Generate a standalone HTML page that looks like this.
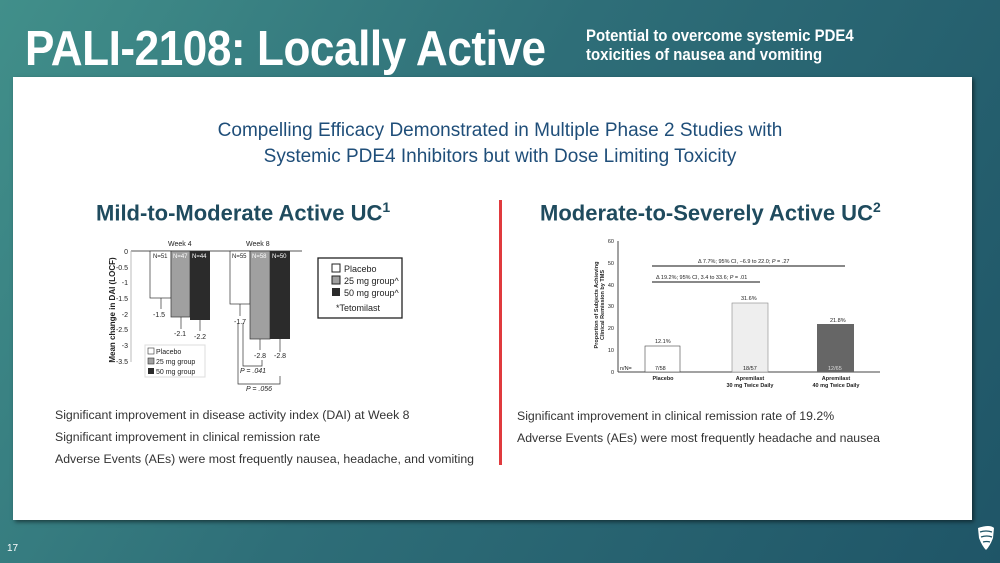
<!DOCTYPE html>
<html><head><meta charset="utf-8"><style>
body{margin:0;width:1000px;height:563px;overflow:hidden;font-family:"Liberation Sans",sans-serif;background:linear-gradient(120deg,#418f8a 0%,#2e6e78 45%,#1f5567 100%);position:relative}
.t{position:absolute;color:#fff;font-weight:bold;transform-origin:0 0}
.panel{position:absolute;left:13px;top:77px;width:959px;height:443px;background:#fff;box-shadow:2px 2px 4px rgba(0,0,0,.5)}
.a{position:absolute}
</style></head><body>
<div class="t" style="left:25px;top:21px;font-size:49px;letter-spacing:-0.5px;transform:scaleX(0.9)">PALI-2108: Locally Active</div>
<div class="t" style="left:586px;top:26px;font-size:17px;line-height:19px;transform:scaleX(0.88)">Potential to overcome systemic PDE4<br>toxicities of nausea and vomiting</div>
<div class="panel"></div>
<div class="a" style="left:0;width:1000px;top:118px;text-align:center;font-size:19px;line-height:26px;color:#1f4e79">Compelling Efficacy Demonstrated in Multiple Phase 2 Studies with<br>Systemic PDE4 Inhibitors but with Dose Limiting Toxicity</div>
<div class="a" style="left:96px;top:199px;font-size:22px;font-weight:bold;color:#1f4b5e">Mild-to-Moderate Active UC<sup style="font-size:14px">1</sup></div>
<div class="a" style="left:540px;top:199px;font-size:22px;font-weight:bold;color:#1f4b5e">Moderate-to-Severely Active UC<sup style="font-size:14px">2</sup></div>
<div class="a" style="left:499px;top:200px;width:3px;height:265px;background:#e03a3e"></div>
<svg class="a" style="left:0;top:0" width="1000" height="563" font-family="Liberation Sans,sans-serif">
<g font-size="7" fill="#222">
<text x="115" y="310" transform="rotate(-90 115 310)" text-anchor="middle" font-weight="bold" font-size="8">Mean change in DAI (LOCF)</text>
<line x1="131" y1="251" x2="302" y2="251" stroke="#555"/>
<line x1="131" y1="251" x2="131" y2="362" stroke="#bbb"/>
<g text-anchor="end">
<text x="128" y="254">0</text><text x="128" y="270">-0.5</text><text x="128" y="285">-1</text><text x="128" y="301">-1.5</text><text x="128" y="317">-2</text><text x="128" y="332">-2.5</text><text x="128" y="348">-3</text><text x="128" y="364">-3.5</text></g>
<text x="168" y="246">Week 4</text><text x="246" y="246">Week 8</text>
<rect x="150" y="251" width="21" height="47" fill="#fff" stroke="#333" stroke-width=".7"/>
<rect x="171" y="251" width="19" height="66" fill="#a0a0a0" stroke="#333" stroke-width=".7"/>
<rect x="190" y="251" width="20" height="69" fill="#2b2b2b"/>
<rect x="230" y="251" width="20" height="53" fill="#fff" stroke="#333" stroke-width=".7"/>
<rect x="250" y="251" width="20" height="88" fill="#a0a0a0" stroke="#333" stroke-width=".7"/>
<rect x="270" y="251" width="20" height="88" fill="#2b2b2b"/>
<g font-size="6"><text x="153" y="258">N=51</text><text x="173" y="258" fill="#fff">N=47</text><text x="192" y="258" fill="#fff">N=44</text><text x="232" y="258">N=55</text><text x="252" y="258" fill="#fff">N=58</text><text x="272" y="258" fill="#fff">N=50</text></g>
<g stroke="#333" stroke-width=".7"><line x1="161" y1="298" x2="161" y2="309"/><line x1="181" y1="317" x2="181" y2="329"/><line x1="200" y1="320" x2="200" y2="331"/><line x1="240" y1="304" x2="240" y2="316"/><line x1="260" y1="339" x2="260" y2="350"/><line x1="280" y1="339" x2="280" y2="352"/>
<polyline points="243,323 243,366 262,366 262,360" fill="none"/><polyline points="238,323 238,384 280,384 280,376" fill="none"/></g>
<text x="153" y="317">-1.5</text><text x="174" y="336">-2.1</text><text x="194" y="339">-2.2</text><text x="234" y="324">-1.7</text><text x="254" y="358">-2.8</text><text x="274" y="358">-2.8</text>
<text x="240" y="373" font-style="italic">P = .041</text><text x="246" y="391" font-style="italic">P = .056</text>
<rect x="145" y="345" width="60" height="32" fill="#fff" stroke="#ddd"/>
<rect x="148" y="348" width="6" height="6" fill="#fff" stroke="#333" stroke-width=".6"/><text x="156" y="354">Placebo</text>
<rect x="148" y="358" width="6" height="6" fill="#a0a0a0" stroke="#333" stroke-width=".6"/><text x="156" y="364">25 mg group</text>
<rect x="148" y="368" width="6" height="6" fill="#2b2b2b"/><text x="156" y="374">50 mg group</text>
<rect x="318" y="258" width="84" height="60" fill="#fff" stroke="#222" stroke-width="1.3"/>
<g font-size="9"><rect x="332" y="264" width="8" height="8" fill="#fff" stroke="#222"/><text x="344" y="272">Placebo</text>
<rect x="332" y="276" width="8" height="8" fill="#a0a0a0" stroke="#222"/><text x="344" y="284">25 mg group^</text>
<rect x="332" y="288" width="8" height="8" fill="#2b2b2b"/><text x="344" y="296">50 mg group^</text>
<text x="336" y="311">*Tetomilast</text></g>
</g>
<g font-size="5.5" fill="#222">
<text x="598" y="305" transform="rotate(-90 598 305)" text-anchor="middle" font-weight="bold">Proportion of Subjects Achieving</text>
<text x="604" y="305" transform="rotate(-90 604 305)" text-anchor="middle" font-weight="bold">Clinical Remission by TMS</text>
<line x1="618" y1="241" x2="618" y2="372" stroke="#444"/><line x1="618" y1="372" x2="880" y2="372" stroke="#444"/>
<g text-anchor="end"><text x="614" y="243">60</text><text x="614" y="265">50</text><text x="614" y="287">40</text><text x="614" y="308">30</text><text x="614" y="330">20</text><text x="614" y="352">10</text><text x="614" y="374">0</text></g>
<rect x="645" y="346" width="35" height="26" fill="#fff" stroke="#444" stroke-width=".6"/>
<rect x="732" y="303" width="36" height="69" fill="#eee" stroke="#888" stroke-width=".6"/>
<rect x="817" y="324" width="37" height="48" fill="#666"/>
<line x1="652" y1="266" x2="845" y2="266" stroke="#111"/>
<line x1="652" y1="282" x2="760" y2="282" stroke="#888" stroke-width="2"/>
<text x="698" y="263">Δ 7.7%; 95% CI, −6.9 to 22.0; <tspan font-style="italic">P</tspan> = .27</text>
<text x="656" y="279">Δ 19.2%; 95% CI, 3.4 to 33.6; <tspan font-style="italic">P</tspan> = .01</text>
<text x="655" y="343">12.1%</text><text x="741" y="300">31.6%</text><text x="830" y="322">21.8%</text>
<text x="620" y="370">n/N=</text><text x="655" y="370">7/58</text><text x="743" y="370">18/57</text><text x="828" y="370" fill="#ddd">12/65</text>
<g font-weight="bold" text-anchor="middle"><text x="663" y="380">Placebo</text><text x="750" y="380">Apremilast</text><text x="750" y="387">30 mg Twice Daily</text><text x="836" y="380">Apremilast</text><text x="836" y="387">40 mg Twice Daily</text></g>
</g>
<g fill="#fff"><path d="M978 528 q12 -4 16 0 l-1 10 q-3 8 -7 12 q-4 -4 -7 -12 z"/></g>
<g stroke="#1f5567" stroke-width="1.3" fill="none"><path d="M980 532 q6 -2 12 0"/><path d="M981 537 q6 -2 11 0"/><path d="M983 542 q4 -1 7 0"/></g>
<text x="7" y="551" font-size="10" fill="#fff">17</text>
</svg>
<div class="a" style="left:55px;top:404px;font-size:12.3px;line-height:22px;color:#333">Significant improvement in disease activity index (DAI) at Week 8<br>Significant improvement in clinical remission rate<br>Adverse Events (AEs) were most frequently nausea, headache, and vomiting</div>
<div class="a" style="left:517px;top:405px;font-size:12.3px;line-height:22px;color:#333">Significant improvement in clinical remission rate of 19.2%<br>Adverse Events (AEs) were most frequently headache and nausea</div>
</body></html>
